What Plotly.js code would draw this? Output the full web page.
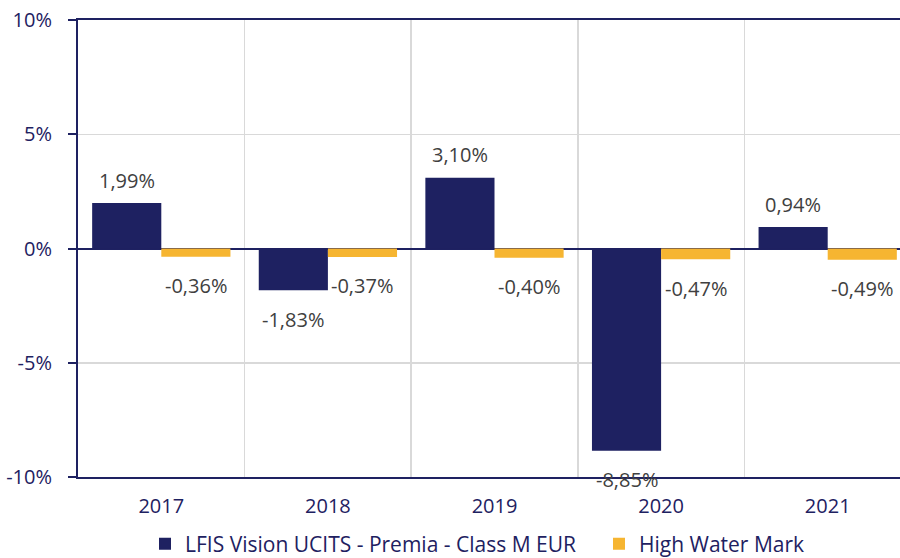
<!DOCTYPE html>
<html>
<head>
<meta charset="utf-8">
<script src="https://cdn.plot.ly/plotly-3.0.1.min.js"></script>
<style>html,body{margin:0;padding:0;background:#fff;}#chart{width:900px;height:558px;}</style>
</head>
<body>
<div id="chart"></div>
<script>
var years = ['2017', '2018', '2019', '2020', '2021'];
var fundName = 'LFIS Vision UCITS - Premia - Class M EUR';
var hwmName = 'High Water Mark';
var fundValues = [1.99, -1.83, 3.10, -8.85, 0.94];
var hwmValues = [-0.36, -0.37, -0.40, -0.47, -0.49];
var yTickVals = [-10, -5, 0, 5, 10];
var yTickText = ['-10%', '-5%', '0%', '5%', '10%'];

var NAVY = '#1e2161';
var GOLD = '#f6b531';
var FONT = '"Open Sans", Lato, sans-serif';

function fmt(v) { return v.toFixed(2).replace('.', ',') + '%'; }

var traces = [
  {type: 'bar', name: fundName, x: years, y: fundValues, marker: {color: NAVY}, hoverinfo: 'none', legend: 'legend'},
  {type: 'bar', name: hwmName, x: years, y: hwmValues, marker: {color: GOLD}, hoverinfo: 'none', legend: 'legend2'}
];

var annotations = [];
var offs = 0.2075;
[fundValues, hwmValues].forEach(function (arr, si) {
  arr.forEach(function (v, i) {
    annotations.push({
      x: i + (si === 0 ? -offs : offs), y: v, xref: 'x', yref: 'y',
      text: fmt(v), showarrow: false,
      yanchor: 'middle', xanchor: 'center',
      yshift: v >= 0 ? 23 : -29,
      font: {family: FONT, size: 20, color: '#404040'}
    });
  });
});

var legendBase = {orientation: 'h', xref: 'container', yref: 'container',
  xanchor: 'left', y: 0.025, yanchor: 'middle', itemwidth: 30,
  font: {family: FONT, size: 21, color: NAVY}};

var layout = {
  width: 900, height: 558,
  margin: {l: 78, r: 0, t: 20, b: 81, autoexpand: false},
  paper_bgcolor: '#fff', plot_bgcolor: '#fff',
  barmode: 'group', bargap: 0.17, bargroupgap: 0,
  font: {family: FONT, size: 20, color: NAVY},
  showlegend: true,
  legend: Object.assign({}, legendBase, {x: 145 / 900}),
  legend2: Object.assign({}, legendBase, {x: 599 / 900}),
  xaxis: {
    type: 'category', range: [-0.5, 4.434],
    showline: true, mirror: true, linecolor: NAVY, linewidth: 2,
    showgrid: true, gridcolor: '#d9d9d9', gridwidth: 1.5, tickson: 'boundaries',
    ticks: '', ticklabelstandoff: 10,
    tickfont: {family: FONT, size: 20, color: NAVY},
    zeroline: false, fixedrange: true
  },
  yaxis: {
    range: [-10, 10], tickvals: yTickVals, ticktext: yTickText,
    showline: true, linecolor: NAVY, linewidth: 2,
    ticks: 'outside', ticklen: 8, tickcolor: NAVY, tickwidth: 2,
    ticklabelstandoff: 12,
    showgrid: true, gridcolor: '#d9d9d9', gridwidth: 1.5,
    zeroline: true, zerolinecolor: NAVY, zerolinewidth: 2,
    tickfont: {family: FONT, size: 20, color: NAVY}, fixedrange: true
  },
  annotations: annotations
};

Plotly.newPlot('chart', traces, layout, {displayModeBar: false, staticPlot: true});
</script>
</body>
</html>
